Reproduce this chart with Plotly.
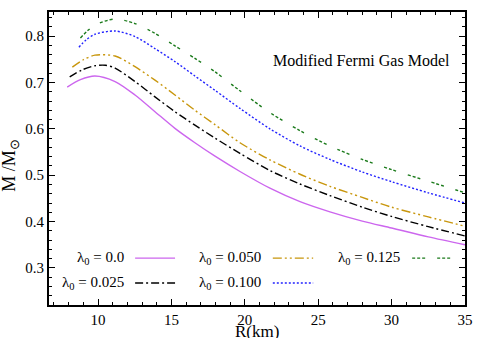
import plotly.graph_objects as go

R_l0 = [7.9, 8.8, 9.79, 11.16, 12.52, 13.88, 15.24, 16.6, 17.97, 19.67, 21.71, 23.76, 25.8, 28, 30, 32.5, 35]
M_l0 = [0.690, 0.706, 0.714, 0.702, 0.673, 0.637, 0.601, 0.570, 0.541, 0.508, 0.472, 0.443, 0.421, 0.401, 0.386, 0.367, 0.350]

R_l025 = [8.07, 8.9, 9.79, 10.5, 11.16, 12.52, 13.88, 15.24, 16.6, 17.97, 19.67, 21.71, 23.76, 25.8, 28, 30, 32.5, 35]
M_l025 = [0.712, 0.727, 0.736, 0.737, 0.731, 0.702, 0.669, 0.637, 0.608, 0.580, 0.547, 0.510, 0.481, 0.456, 0.431, 0.411, 0.389, 0.369]

R_l050 = [8.25, 9.0, 9.79, 11.16, 12.52, 13.88, 15.24, 16.6, 17.97, 19.67, 21.71, 23.76, 25.8, 28, 30, 32.5, 35]
M_l050 = [0.733, 0.749, 0.759, 0.757, 0.734, 0.705, 0.673, 0.640, 0.609, 0.570, 0.533, 0.502, 0.476, 0.452, 0.431, 0.410, 0.390]

R_l100 = [8.7, 9.2, 9.79, 11.16, 12.52, 13.88, 15.24, 16.6, 17.97, 19.67, 21.71, 23.76, 25.8, 28, 30, 32.5, 35]
M_l100 = [0.776, 0.792, 0.804, 0.811, 0.799, 0.773, 0.745, 0.714, 0.683, 0.644, 0.600, 0.563, 0.534, 0.507, 0.486, 0.462, 0.440]

R_l125 = [8.8, 9.3, 9.79, 11.16, 12.52, 13.88, 15.24, 16.6, 17.97, 19.67, 21.71, 23.76, 25.8, 28, 30, 32.5, 35]
M_l125 = [0.796, 0.812, 0.824, 0.837, 0.827, 0.806, 0.779, 0.752, 0.723, 0.682, 0.635, 0.596, 0.563, 0.534, 0.512, 0.487, 0.462]

labels = ["0.0", "0.025", "0.050", "0.100", "0.125"]
colors = ["#cc66ee", "#000000", "#c8960c", "#2222ff", "#1a7a1a"]
dashes = ["solid", "8px,3px,2px,3px", "9px,3px,2px,3px,2px,3px", "2px,2px", "3px,2px,3px,2px,3px,12px"]
series = [(R_l0, M_l0), (R_l025, M_l025), (R_l050, M_l050), (R_l100, M_l100), (R_l125, M_l125)]

FONT = "Liberation Serif, Times New Roman, serif"

fig = go.Figure()
for (rx, my), lab, c, d in zip(series, labels, colors, dashes):
    fig.add_trace(go.Scatter(x=rx, y=my, mode="lines",
                             line=dict(color=c, width=1.4, dash=d, shape="spline", smoothing=0.8),
                             name="λ0 = " + lab, showlegend=False))

# manual legend (text left of sample, column-major like the reference)
leg_pos = [  # (text right x, line x0, line x1, y) in paper coords
    (0.185, 0.207, 0.303, 0.160),
    (0.185, 0.207, 0.303, 0.075),
    (0.514, 0.538, 0.635, 0.160),
    (0.514, 0.538, 0.635, 0.075),
    (0.849, 0.873, 0.969, 0.160),
]
for lab, c, d, (tx, x0, x1, yy) in zip(labels, colors, dashes, leg_pos):
    fig.add_annotation(x=tx, y=yy, xref="paper", yref="paper", xanchor="right", yanchor="middle",
                       text="λ<sub>0</sub> = " + lab, showarrow=False, font=dict(family=FONT, size=15, color="black"))
    fig.add_shape(type="line", xref="paper", yref="paper", x0=x0, x1=x1, y0=yy, y1=yy,
                  line=dict(color=c, width=1.4, dash=d))

fig.add_annotation(x=0.752, y=0.836, xref="paper", yref="paper", xanchor="center", yanchor="middle",
                   text="Modified Fermi Gas Model",
                   showarrow=False, font=dict(family=FONT, size=16, color="black"))

# axis titles
fig.add_annotation(x=0.5, y=0, xref="paper", yref="paper", xanchor="center", yanchor="middle", yshift=-26,
                   text="R(km)", showarrow=False, font=dict(family=FONT, size=17, color="black"))
fig.add_annotation(x=0, y=0.475, xref="paper", yref="paper", xanchor="center", yanchor="middle",
                   xshift=-38, textangle=-90,
                   text="M /M<sub>⊙</sub>", showarrow=False, font=dict(family=FONT, size=18, color="black"))

axis_common = dict(showline=True, linecolor="black", linewidth=2, mirror="ticks", ticks="inside",
                   ticklen=6, tickwidth=1, tickcolor="black", showgrid=False, zeroline=False,
                   automargin=False, tickfont=dict(family=FONT, size=15, color="black"))

fig.update_xaxes(range=[6.66, 35], tick0=10, dtick=5,
                 minor=dict(ticks="inside", ticklen=3, dtick=1, tick0=10, tickcolor="black"),
                 **axis_common)
fig.update_yaxes(range=[0.22, 0.852], tick0=0.3, dtick=0.1, tickformat=".1f",
                 minor=dict(ticks="inside", ticklen=3, dtick=0.02, tick0=0.3, tickcolor="black"),
                 **axis_common)

fig.update_layout(width=483, height=338, margin=dict(l=49, r=18, t=12, b=33),
                  paper_bgcolor="white", plot_bgcolor="white", font=dict(family=FONT))
# remove the page's default body margin so the figure fills the window exactly
fig.write_html("out.html", config={"displayModeBar": False},
               post_script="document.body.style.margin='0px';")
